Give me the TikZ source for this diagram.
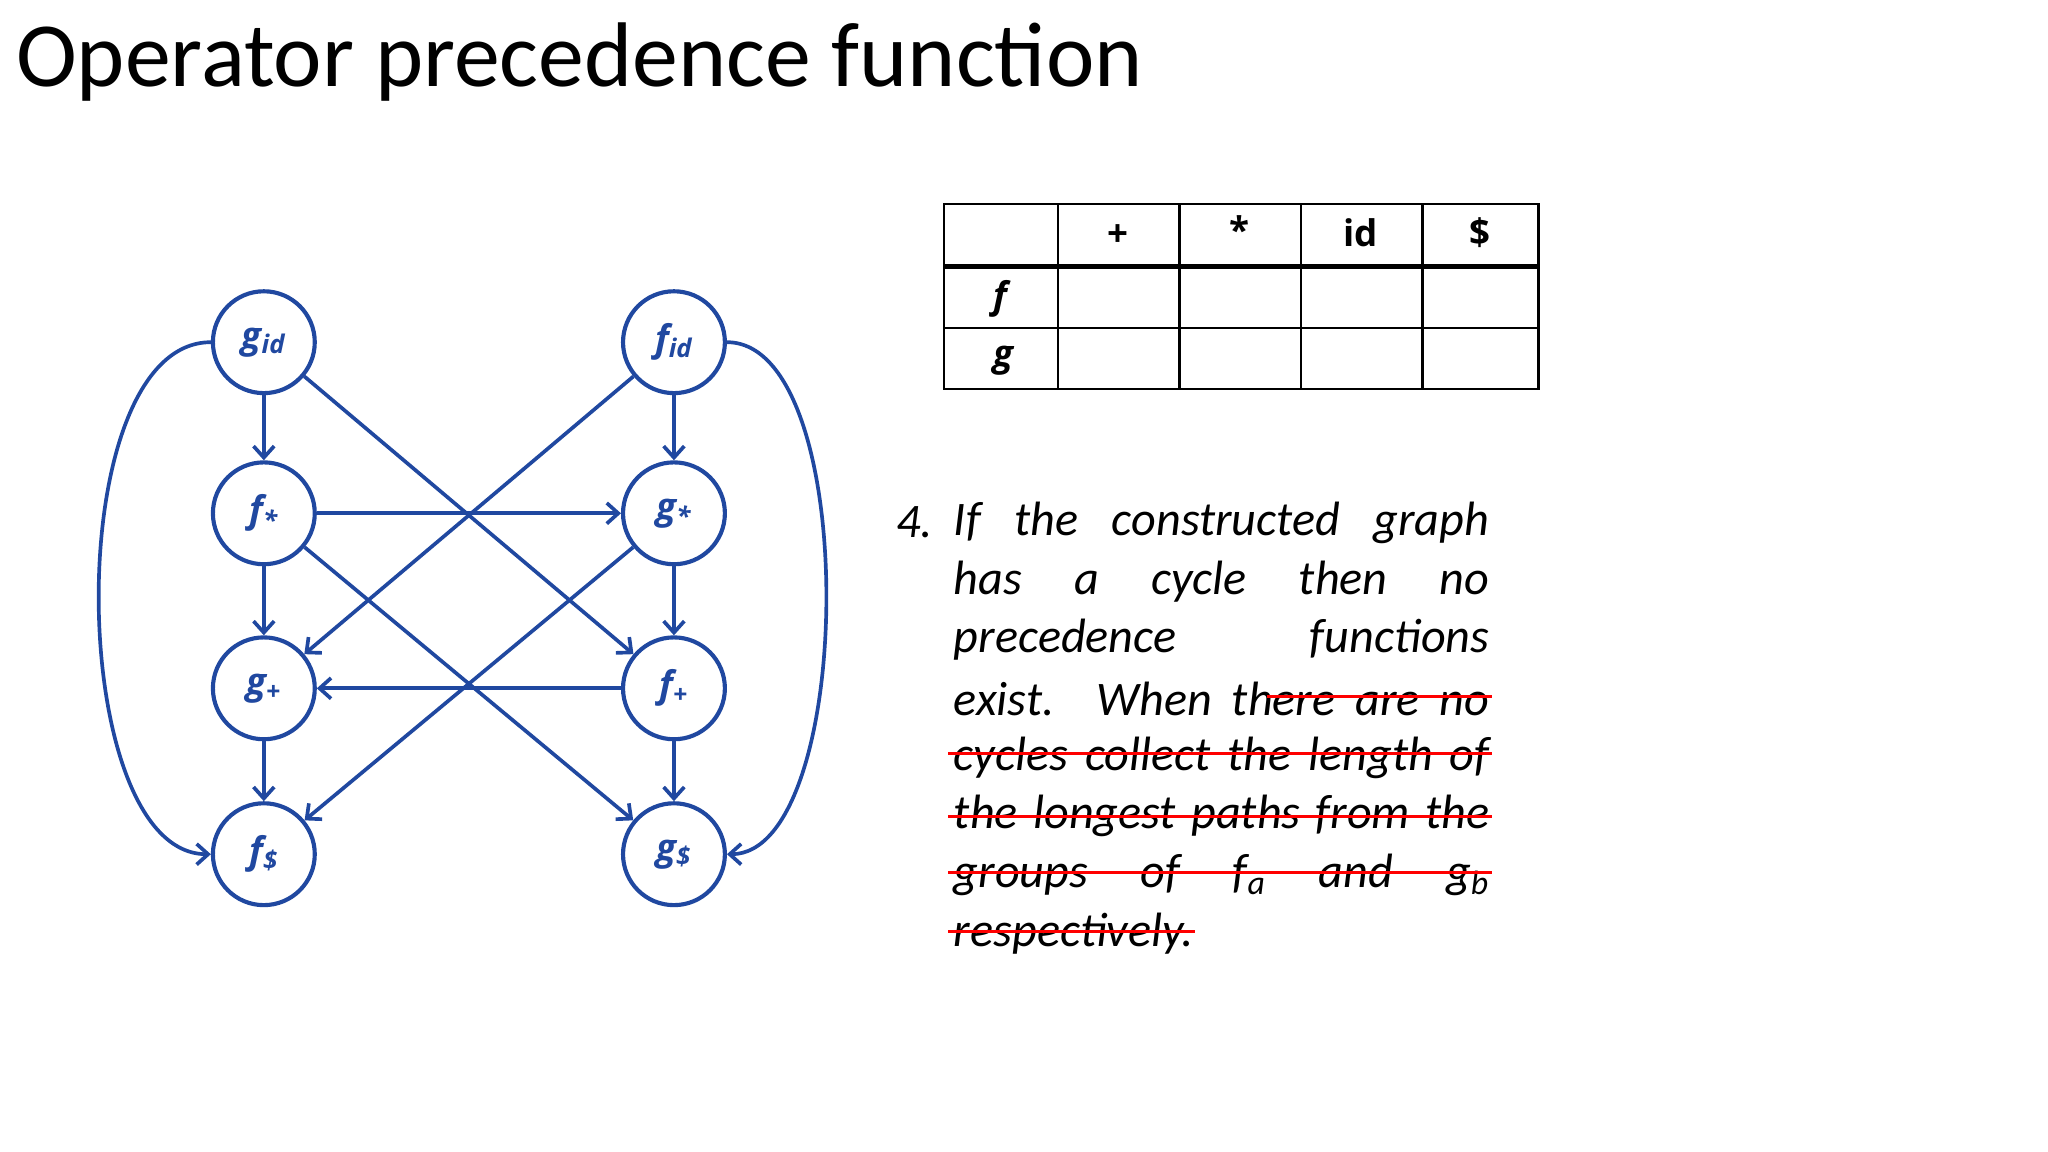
\documentclass[tikz,border=0pt]{standalone}
\usepackage{fontspec}
\setmainfont{Carlito}
\newfontfamily\nodefont{Open Sans}
\usetikzlibrary{arrows.meta}
\definecolor{nb}{RGB}{32,72,160}
\begin{document}
\begin{tikzpicture}[x=0.02cm,y=-0.02cm,
  nd/.style={circle,draw=nb,line width=1.8pt,minimum size=1.56cm,inner sep=0pt,text=nb,font=\nodefont\fontsize{16}{16}\selectfont\bfseries\itshape},
  ed/.style={draw=nb,line width=1.6pt,-{Straight Barb[length=5pt,width=9pt]}},
  ln/.style={anchor=west,font=\fontsize{21}{21}\selectfont\itshape,inner sep=0pt},
  st/.style={red,line width=1.4pt}]
\useasboundingbox (0,0) rectangle (1568,882);
\node[anchor=base west,inner sep=0pt,font=\fontsize{40}{40}\selectfont] (title) at (12,66) {Operator precedence function};
\node[nd] (gid) at (202,262) {g\textsubscript{id}};
\node[nd] (fid) at (516,262) {f\textsubscript{id}};
\node[nd] (fs) at (202,393) {f\textsubscript{*}};
\node[nd] (gs) at (516,393) {g\textsubscript{*}};
\node[nd] (gp) at (202,527) {g\textsubscript{+}};
\node[nd] (fp) at (516,527) {f\textsubscript{+}};
\node[nd] (fd) at (202,654) {f\textsubscript{\$}};
\node[nd] (gd) at (516,654) {g\textsubscript{\$}};
\draw[ed] (gid) -- (fs);
\draw[ed] (fid) -- (gs);
\draw[ed] (fs) -- (gp);
\draw[ed] (gs) -- (fp);
\draw[ed] (gp) -- (fd);
\draw[ed] (fp) -- (gd);
\draw[ed] (fs) -- (gs);
\draw[ed] (fp) -- (gp);
\draw[ed] (gid) -- (fp);
\draw[ed] (fid) -- (gp);
\draw[ed] (fs) -- (gd);
\draw[ed] (gs) -- (fd);
\draw[ed] (gid.west) .. controls (45,262) and (50,654) .. (fd.west);
\draw[ed] (fid.east) .. controls (660,262) and (655,654) .. (gd.east);
% table
\begin{scope}[line width=1pt]
\draw (723,156) rectangle (1178,298);
\foreach \x in {810,903,996,1089} \draw (\x,156) -- (\x,298);
\draw (723,251) -- (1178,251);
\draw[line width=2pt] (723,204) -- (1178,204);
\end{scope}
\begin{scope}[font=\nodefont\fontsize{16}{16}\selectfont\bfseries]
\node (h1) at (856,180) {+};
\node (h2) at (949,176) {*};
\node (h3) at (1042,178) {id};
\node (h4) at (1133,178) {\$};
\node (rf) at (766,229) {\itshape f};
\node (rg) at (768,276) {\itshape g};
\end{scope}
% text
\node[ln] (num) at (686,400) {4.};
\foreach \y/\t in {400/{If the constructed graph},445/{has a cycle then no},490/{precedence functions},535/{exist. When there are no},580/{cycles collect the length of},625/{the longest paths from the},670/{groups of f\textsubscript{a} and g\textsubscript{b}}}
  \node[ln] at (730,\y) {\makebox[8.2cm][s]{\t}};
\node[ln] (last) at (730,715) {respectively.};
\draw[st] (970,533) -- (1142,533);
\draw[st] (726,577) -- (1142,577);
\draw[st] (726,625) -- (1142,625);
\draw[st] (726,668) -- (1142,668);
\draw[st] (726,713) -- (915,713);
\end{tikzpicture}
\end{document}
